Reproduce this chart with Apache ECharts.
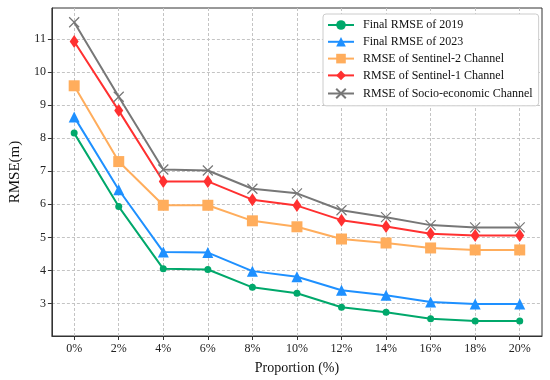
<!DOCTYPE html>
<html>
<head>
<meta charset="utf-8">
<script src="https://cdn.jsdelivr.net/npm/echarts@6/dist/echarts.min.js"></script>
<style>html,body{margin:0;padding:0;background:#fff}#c{width:550px;height:380px}</style>
</head>
<body>
<div id="c"></div>
<script>
const proportions = [0, 2, 4, 6, 8, 10, 12, 14, 16, 18, 20];
const xTickLabels = ['0%', '2%', '4%', '6%', '8%', '10%', '12%', '14%', '16%', '18%', '20%'];
const yTickValues = [3, 4, 5, 6, 7, 8, 9, 10, 11];
const final2019 = [8.15, 5.93, 4.05, 4.03, 3.49, 3.31, 2.89, 2.74, 2.54, 2.47, 2.47];
const final2023 = [8.64, 6.44, 4.56, 4.54, 3.98, 3.81, 3.40, 3.25, 3.05, 2.99, 2.99];
const sentinel2 = [9.58, 7.29, 5.97, 5.97, 5.50, 5.32, 4.95, 4.83, 4.68, 4.62, 4.62];
const sentinel1 = [10.92, 8.83, 6.69, 6.69, 6.14, 5.96, 5.52, 5.33, 5.11, 5.06, 5.06];
const socioEco = [11.50, 9.25, 7.05, 7.02, 6.47, 6.33, 5.82, 5.61, 5.37, 5.30, 5.30];

const names = ['Final RMSE of 2019', 'Final RMSE of 2023', 'RMSE of Sentinel-2 Channel', 'RMSE of Sentinel-1 Channel', 'RMSE of Socio-economic Channel'];
const colors = ['#00A86B', '#1E90FF', '#FFAD5C', '#FF3030', '#777777'];
const serif = '"Liberation Serif", "DejaVu Serif", serif';

function pairs(arr) { return arr.map((v, i) => [proportions[i], v]); }

const chart = echarts.init(document.getElementById('c'), null, { renderer: 'canvas' });

function mk(idx, data, symbol, size, extra) {
  return Object.assign({
    name: names[idx],
    type: 'line',
    data: pairs(data),
    symbol: symbol,
    symbolSize: size,
    showAllSymbol: true,
    lineStyle: { color: colors[idx], width: 2 },
    itemStyle: { color: colors[idx], borderWidth: 0 },
    emphasis: { disabled: true },
    animation: false,
    z: 2 + idx
  }, extra || {});
}

chart.setOption({
  animation: false,
  color: colors,
  grid: { left: 40, right: 8, top: 8, bottom: 39, show: true, borderColor: '#333', borderWidth: 1, backgroundColor: 'transparent' },
  legend: {
    orient: 'vertical',
    left: 323,
    top: 14,
    padding: [5, 6, 5, 4],
    itemWidth: 26,
    itemHeight: 12,
    itemGap: 4.8,
    backgroundColor: '#fff',
    borderColor: '#cccccc',
    borderWidth: 1,
    borderRadius: 3,
    textStyle: { fontFamily: serif, fontSize: 12, color: '#111', padding: [0, 0, 0, 4] },
    data: names
  },
  xAxis: {
    type: 'value',
    min: -1,
    max: 21,
    name: 'Proportion (%)',
    nameLocation: 'middle',
    nameGap: 25,
    nameTextStyle: { fontFamily: serif, fontSize: 14, color: '#111' },
    axisLine: { show: true, onZero: false, lineStyle: { color: '#333', width: 1 } },
    axisTick: { show: true, inside: false, length: 4, lineStyle: { color: '#333' }, customValues: proportions },
    axisLabel: {
      customValues: proportions,
      fontFamily: serif, fontSize: 12, color: '#222', margin: 7,
      formatter: function (v) { const i = proportions.indexOf(v); return i >= 0 ? xTickLabels[i] : ''; }
    },
    splitLine: { show: true, lineStyle: { color: '#c4c4c4', type: [3, 2], width: 1 } }
  },
  yAxis: {
    type: 'value',
    min: 2.02,
    max: 11.93,
    name: 'RMSE(m)',
    nameLocation: 'middle',
    nameGap: 24,
    nameTextStyle: { fontFamily: serif, fontSize: 15, color: '#111' },
    axisLine: { show: true, onZero: false, lineStyle: { color: '#333', width: 1 } },
    axisTick: { show: true, inside: false, length: 4, lineStyle: { color: '#333' }, customValues: yTickValues },
    axisLabel: { customValues: yTickValues, fontFamily: serif, fontSize: 12, color: '#222', margin: 6 },
    splitLine: { show: true, lineStyle: { color: '#c4c4c4', type: [3, 2], width: 1 } }
  },
  series: [
    mk(0, final2019, 'circle', 7),
    mk(1, final2023, 'triangle', 11),
    mk(2, sentinel2, 'rect', 11),
    mk(3, sentinel1, 'diamond', [9, 13]),
    mk(4, socioEco, 'path://M0,0L10,10M10,0L0,10', 10, {
      itemStyle: { color: 'none', borderColor: colors[4], borderWidth: 1.2 }
    })
  ]
});
</script>
</body>
</html>
